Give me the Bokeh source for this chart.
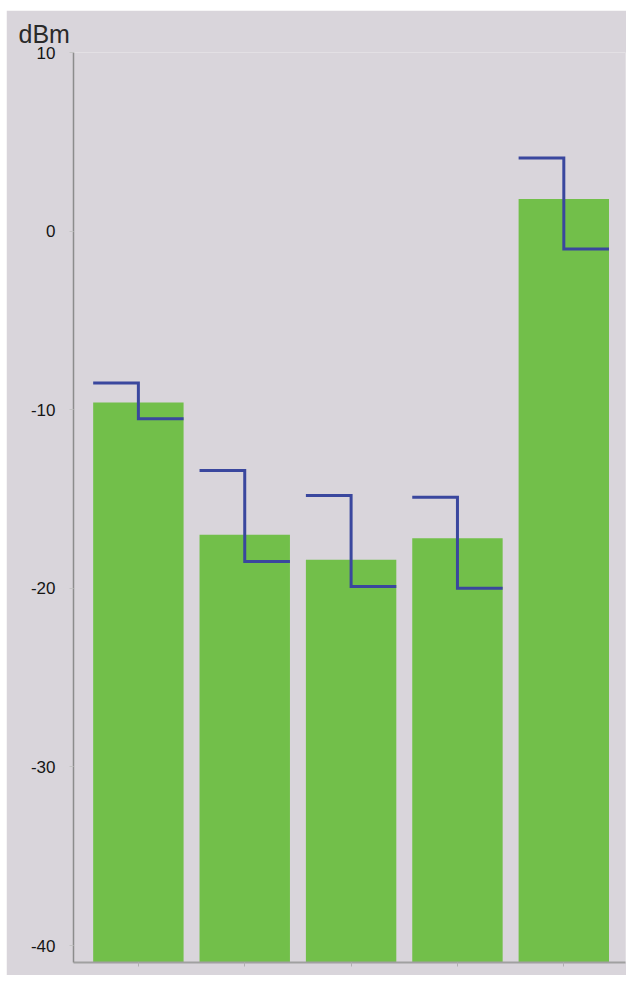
from bokeh.plotting import figure
from bokeh.models import FixedTicker, Range1d
from bokeh.embed import file_html
from bokeh.resources import INLINE

# Data
channels = [1, 2, 3, 4, 5]
power_dbm = [-9.6, -17.0, -18.4, -17.2, 1.8]
upper_limit = [-8.5, -13.4, -14.8, -14.9, 4.1]
lower_limit = [-10.5, -18.5, -19.9, -20.0, -1.0]
y_ticks = [10, 0, -10, -20, -30, -40]
y_tick_labels = ["10", "0", "-10", "-20", "-30", "-40"]
unit_label = "dBm"

bar_w = 0.85
y_bottom = -40.95

p = figure(width=620, height=965, output_backend="svg", toolbar_location=None,
           x_range=Range1d(0.39, 5.58), y_range=Range1d(y_bottom, 10),
           min_border_left=67, min_border_right=1, min_border_top=42,
           min_border_bottom=13, title=unit_label)
p.margin = (10, 0, 0, 6)
p.background_fill_color = "#d9d5db"
p.border_fill_color = "#d9d5db"
p.outline_line_color = None
p.xgrid.visible = False
p.ygrid.visible = False

p.title.align = "left"
p.title.offset = -55
p.title.text_font = "Liberation Sans"
p.title.text_font_size = "25px"
p.title.text_font_style = "normal"
p.title.text_color = "#2a2a2a"
p.title.standoff = 9

p.vbar(x=channels, top=power_dbm, bottom=y_bottom, width=bar_w,
       fill_color="#72bf4a", line_color=None)

xs, ys = [], []
for c, u, l in zip(channels, upper_limit, lower_limit):
    xs.append([c - bar_w / 2, c, c, c + bar_w / 2])
    ys.append([u, u, l, l])
p.multi_line(xs=xs, ys=ys, line_color="#3a479e", line_width=3,
             line_join="miter")

# y axis
p.yaxis.ticker = FixedTicker(ticks=y_ticks)
p.yaxis.major_label_overrides = dict(zip(y_ticks, y_tick_labels))
p.yaxis.axis_line_color = "#8c8c8c"
p.yaxis.axis_line_width = 1.5
p.yaxis.major_tick_line_color = "#c4c4c4"
p.yaxis.major_tick_out = 4
p.yaxis.major_tick_in = 0
p.yaxis.minor_tick_line_color = None
p.yaxis.major_label_standoff = 14
p.yaxis.major_label_text_font = "Liberation Sans"
p.yaxis.major_label_text_font_size = "17px"
p.yaxis.major_label_text_color = "#151515"

# x axis
p.xaxis.ticker = FixedTicker(ticks=channels)
p.xaxis.axis_line_color = "#a0a0a0"
p.xaxis.axis_line_width = 2
p.xaxis.major_tick_line_color = "#b0b0b0"
p.xaxis.major_tick_out = 4
p.xaxis.major_tick_in = 0
p.xaxis.minor_tick_line_color = None
p.xaxis.major_label_overrides = {c: "" for c in channels}
p.xaxis.major_label_text_font_size = "1px"

open("out.html", "w").write(file_html(p, INLINE))
